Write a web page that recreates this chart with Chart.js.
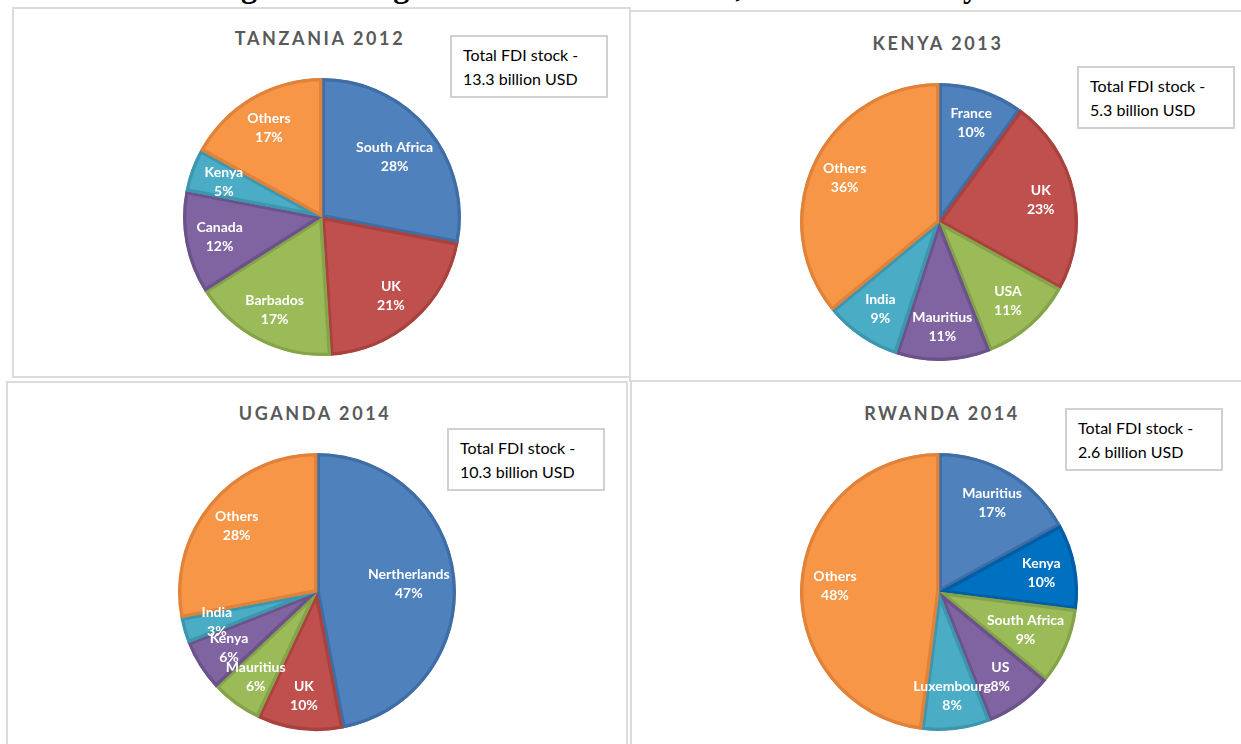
<!DOCTYPE html>
<html>
<head>
<meta charset="utf-8">
<script src="https://cdn.jsdelivr.net/npm/chart.js@4.4.1/dist/chart.umd.min.js"></script>
<style>
  html, body { margin: 0; padding: 0; background: #fff; }
  #page { position: relative; width: 1241px; height: 744px; overflow: hidden; background: #fff; }
  .figTitle {
    position: absolute; left: 0; top: -30px; width: 1236px; text-align: center;
    font-family: "Liberation Serif", serif; font-weight: bold; font-size: 32px; line-height: 32px; color: #000;
  }
  .panel { position: absolute; border: 2px solid #dcdcdc; box-sizing: border-box; background: #fff; }
  .pieTitle {
    position: absolute; width: 300px; text-align: center;
    font-family: Lato, sans-serif; font-weight: bold; font-size: 18px; letter-spacing: 2.6px; color: #595959;
  }
  .note {
    position: absolute; width: 158px; height: 63px; box-sizing: border-box; border: 2px solid #d0d0d0;
    background: #fff; padding: 6px 0 0 11px;
    font-family: Lato, sans-serif; font-size: 16px; line-height: 24px; color: #000;
  }
  canvas { position: absolute; }
</style>
</head>
<body>
<div id="page">
  <div class="figTitle">Figure 4: Origin of FDI stocks in EAC, latest available year</div>

  <div class="panel" style="left:12px; top:7px; width:619px; height:371px;"></div>
  <div class="panel" style="left:629px; top:10px; width:620px; height:372px;"></div>
  <div class="panel" style="left:6px; top:381px; width:622px; height:380px;"></div>
  <div class="panel" style="left:630px; top:380px; width:620px; height:380px;"></div>

  <div class="pieTitle" style="left:170px; top:27px;">TANZANIA 2012</div>
  <div class="pieTitle" style="left:788px; top:32px;">KENYA 2013</div>
  <div class="pieTitle" style="left:165px; top:402px;">UGANDA 2014</div>
  <div class="pieTitle" style="left:792px; top:402px;">RWANDA 2014</div>

  <canvas id="tzChart" width="300" height="300" style="left:172px; top:67px;"></canvas>
  <canvas id="keChart" width="300" height="300" style="left:789px; top:72px;"></canvas>
  <canvas id="ugChart" width="300" height="300" style="left:167px; top:442px;"></canvas>
  <canvas id="rwChart" width="300" height="300" style="left:789px; top:442px;"></canvas>

  <div class="note" style="left:450px; top:35px;">Total FDI stock - <br>13.3 billion USD</div>
  <div class="note" style="left:1077px; top:66px;">Total FDI stock - <br>5.3 billion USD</div>
  <div class="note" style="left:447px; top:428px;">Total FDI stock - <br>10.3 billion USD</div>
  <div class="note" style="left:1065px; top:408px;">Total FDI stock - <br>2.6 billion USD</div>
</div>

<script>
// shares of FDI stock, percent, clockwise from 12 o'clock
const tzLabels = ['South Africa', 'UK', 'Barbados', 'Canada', 'Kenya', 'Others'];
const tzValues = [28, 21, 17, 12, 5, 17];

const keLabels = ['France', 'UK', 'USA', 'Mauritius', 'India', 'Others'];
const keValues = [10, 23, 11, 11, 9, 36];

const ugLabels = ['Nertherlands', 'UK', 'Mauritius', 'Kenya', 'India', 'Others'];
const ugValues = [47, 10, 6, 6, 3, 28];

const rwLabels = ['Mauritius', 'Kenya', 'South Africa', 'US', 'Luxembourg', 'Others'];
const rwValues = [17, 10, 9, 8, 8, 48];

const fills = ['#4F81BD', '#C0504D', '#9BBB59', '#8064A2', '#4BACC6', '#F79646'];
const edges = ['#3F6DA5', '#A9423F', '#85A449', '#6B528B', '#3C96AE', '#E0823A'];
const rwFills = ['#4F81BD', '#0070C0', '#9BBB59', '#8064A2', '#4BACC6', '#F79646'];
const rwEdges = ['#3F6DA5', '#005EA6', '#85A449', '#6B528B', '#3C96AE', '#E0823A'];

// white two-line labels inside each slice, pulled inward if they would spill over the edge
const sliceLabels = {
    id: 'sliceLabels',
    afterDatasetsDraw(chart) {
        const ctx = chart.ctx;
        const meta = chart.getDatasetMeta(0);
        const values = chart.data.datasets[0].data;
        ctx.save();
        ctx.fillStyle = '#ffffff';
        ctx.font = 'bold 14px Lato, sans-serif';
        ctx.textAlign = 'center';
        ctx.textBaseline = 'middle';
        meta.data.forEach((arc, i) => {
            const p = arc.getProps(['x', 'y', 'startAngle', 'endAngle', 'outerRadius'], true);
            const mid = (p.startAngle + p.endAngle) / 2;
            const name = chart.data.labels[i];
            const hw = ctx.measureText(name).width / 2;
            const limit = p.outerRadius * 0.98;
            let r = p.outerRadius * 0.75;
            for (; r > 20; r -= 2) {
                const cx = Math.cos(mid) * r, cy = Math.sin(mid) * r;
                const far = Math.hypot(Math.abs(cx) + hw, Math.abs(cy) + 16);
                if (far <= limit) break;
            }
            const x = p.x + Math.cos(mid) * r;
            const y = p.y + Math.sin(mid) * r;
            ctx.fillText(name, x, y - 9);
            ctx.fillText(values[i] + '%', x, y + 10);
        });
        ctx.restore();
    }
};

function makePie(id, labels, values, bg, border) {
    const ctx = document.getElementById(id).getContext('2d');
    return new Chart(ctx, {
        type: 'pie',
        data: {
            labels: labels,
            datasets: [{
                data: values,
                backgroundColor: bg,
                borderColor: border,
                borderWidth: 3,
                borderAlign: 'inner'
            }]
        },
        options: {
            responsive: false,
            animation: false,
            radius: 139,
            layout: { padding: 0 },
            plugins: {
                legend: { display: false },
                tooltip: { enabled: false }
            }
        },
        plugins: [sliceLabels]
    });
}

makePie('tzChart', tzLabels, tzValues, fills, edges);
makePie('keChart', keLabels, keValues, fills, edges);
makePie('ugChart', ugLabels, ugValues, fills, edges);
makePie('rwChart', rwLabels, rwValues, rwFills, rwEdges);
</script>
</body>
</html>
